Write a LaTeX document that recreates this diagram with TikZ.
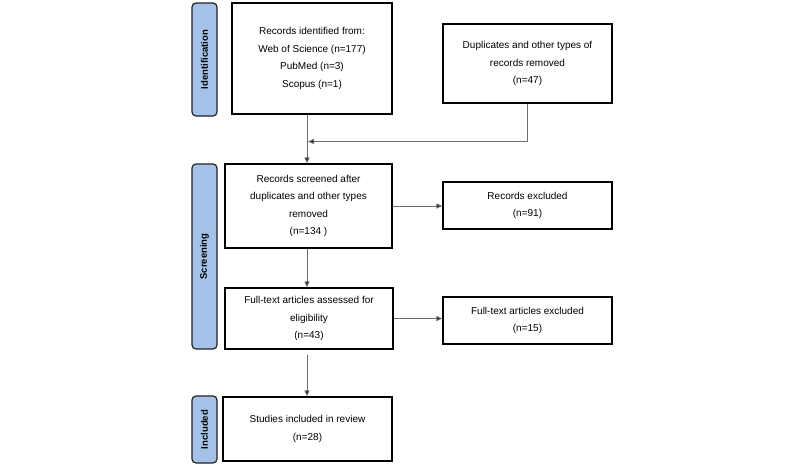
\documentclass[tikz,border=0pt]{standalone}
\usepackage{fontspec}
\setmainfont{Liberation Sans}
\usetikzlibrary{arrows.meta}
\definecolor{stagefill}{RGB}{164,194,232}
\definecolor{linkgray}{RGB}{110,110,110}
\tikzset{
  stage/.style={draw={rgb,255:red,34;green,34;blue,34}, line width=1.2pt, fill=stagefill, rounded corners=4pt,
    minimum width=25pt, inner sep=0pt, font=\fontsize{9.5}{11}\selectfont\bfseries},
  rbox/.style={draw=black, line width=1.3pt, inner sep=2pt, align=center,
    font=\fontsize{10}{17.5}\selectfont},
  link/.style={draw=linkgray, line width=1pt, -{Triangle[length=6pt,width=5pt,fill=black]}}
}
\begin{document}
\begin{tikzpicture}[x=1pt,y=1pt,yscale=-1,xscale=1]
\useasboundingbox (0,0) rectangle (800,467);
% Stage bars
\node [stage, minimum height=113pt] (ident) at (204.5,59.5) {\rotatebox{90}{Identification}};
\node [stage, minimum height=185pt] (screen) at (204.5,256.5) {\rotatebox{90}{Screening}};
\node [stage, minimum height=67pt] (incl) at (204.5,429.5) {\rotatebox{90}{Included}};
% Boxes
\node [rbox, minimum width=160pt, minimum height=111pt] (rec) at (312,58.5) {Records identified from:\\Web of Science (n=177)\\PubMed (n=3)\\Scopus (n=1)};
\node [rbox, minimum width=169pt, minimum height=79pt] (dup) at (527.5,63.5) {Duplicates and other types of\\records removed\\(n=47)};
\node [rbox, minimum width=167pt, minimum height=84pt] (scr) at (308.5,206) {Records screened after\\duplicates and other types\\removed\\(n=134 )};
\node [rbox, minimum width=169pt, minimum height=47pt] (recx) at (527.5,205.5) {Records excluded\\(n=91)};
\node [rbox, minimum width=168pt, minimum height=61pt] (full) at (309,318.5) {Full-text articles assessed for\\eligibility\\(n=43)};
\node [rbox, minimum width=169pt, minimum height=47pt] (fullx) at (527.5,320.5) {Full-text articles excluded\\(n=15)};
\node [rbox, minimum width=169pt, minimum height=64pt] (study) at (307.5,429) {Studies included in review\\(n=28)};
% Connectors
\coordinate (join) at (307,141.5);
\draw [link] (join |- rec.south) -- (join |- scr.north);
\draw [link] (dup.south) |- ([xshift=1pt]join);
\draw [link] (scr.east) -- (scr.east -| recx.west);
\draw [link] (join |- scr.south) -- (join |- full.north);
\draw [link] (full.east) -- (full.east -| fullx.west);
\draw [link] ([yshift=5pt]join |- full.south) -- (join |- study.north);
\end{tikzpicture}
\end{document}
